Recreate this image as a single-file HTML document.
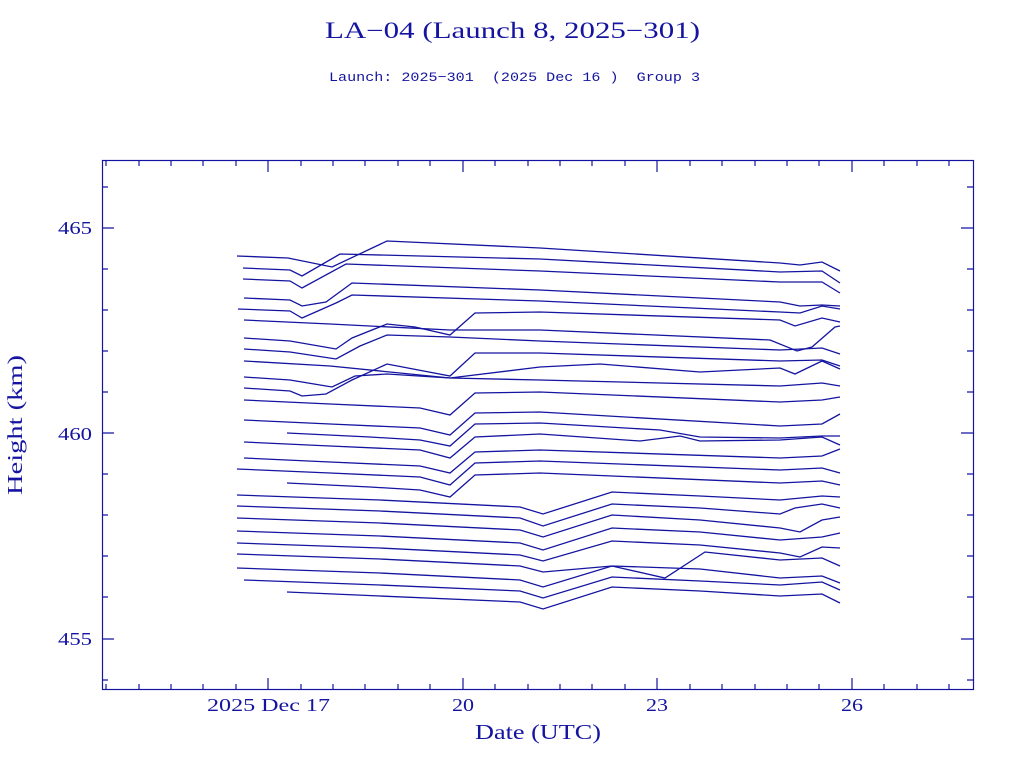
<!DOCTYPE html>
<html><head><meta charset="utf-8"><style>
body{margin:0;background:#fff;}
svg{display:block}
text{fill:#1414a0}
</style></head><body>
<svg width="1024" height="768" xmlns="http://www.w3.org/2000/svg">
<rect width="1024" height="768" fill="#fff"/>
<text x="325" y="38" font-family="Liberation Serif, serif" font-size="23" textLength="375" lengthAdjust="spacingAndGlyphs">LA−04 (Launch 8, 2025−301)</text>
<text x="329" y="81" font-family="Liberation Mono, monospace" font-size="13" textLength="371" lengthAdjust="spacingAndGlyphs" xml:space="preserve">Launch: 2025−301  (2025 Dec 16 )  Group 3</text>
<g stroke="#1414a0" stroke-width="1.2" fill="none">
<rect x="102.5" y="160.5" width="871" height="529"/>
<path d="M102 228h12M102 433h12M102 639h12M973 228h-12M973 433h-12M973 639h-12
M102 187h6M102 269h6M102 310h6M102 351h6M102 392h6M102 474h6M102 515h6M102 556h6M102 597h6M102 680h6
M973 187h-6M973 269h-6M973 310h-6M973 351h-6M973 392h-6M973 474h-6M973 515h-6M973 556h-6M973 597h-6M973 680h-6
M268 690v-12M463 690v-12M657 690v-12M852 690v-12M268 160v12M463 160v12M657 160v12M852 160v12
M106 690v-6M139 690v-6M171 690v-6M203 690v-6M236 690v-6M301 690v-6M333 690v-6M365 690v-6M398 690v-6M430 690v-6M495 690v-6M528 690v-6M560 690v-6M592 690v-6M625 690v-6M690 690v-6M722 690v-6M755 690v-6M787 690v-6M819 690v-6M884 690v-6M917 690v-6M949 690v-6
M106 160v6M139 160v6M171 160v6M203 160v6M236 160v6M301 160v6M333 160v6M365 160v6M398 160v6M430 160v6M495 160v6M528 160v6M560 160v6M592 160v6M625 160v6M690 160v6M722 160v6M755 160v6M787 160v6M819 160v6M884 160v6M917 160v6M949 160v6"/>
</g>
<g font-family="Liberation Serif, serif" font-size="18">
<text x="58" y="234" textLength="34" lengthAdjust="spacingAndGlyphs">465</text>
<text x="58" y="440" textLength="34" lengthAdjust="spacingAndGlyphs">460</text>
<text x="58" y="645" textLength="34" lengthAdjust="spacingAndGlyphs">455</text>
<text x="207" y="711" textLength="123" lengthAdjust="spacingAndGlyphs">2025 Dec 17</text>
<text x="452" y="711" textLength="22" lengthAdjust="spacingAndGlyphs">20</text>
<text x="646" y="711" textLength="22" lengthAdjust="spacingAndGlyphs">23</text>
<text x="841" y="711" textLength="22" lengthAdjust="spacingAndGlyphs">26</text>
</g>
<text x="475" y="739" font-family="Liberation Serif, serif" font-size="21" textLength="126" lengthAdjust="spacingAndGlyphs">Date (UTC)</text>
<text transform="translate(22,495) rotate(-90)" font-family="Liberation Serif, serif" font-size="21" textLength="140" lengthAdjust="spacingAndGlyphs">Height (km)</text>
<g stroke="#1414a0" stroke-width="1.3" fill="none">
<polyline points="237,256 288,258 332,267 387,241 540,248 780,263 800,265 822,262 840,271"/>
<polyline points="243,268 290,270 302,276 340,254 540,259 780,272 822,271 840,283"/>
<polyline points="243,279 290,281 302,288 346,264 540,271 780,282 822,282 840,293"/>
<polyline points="244,298 290,300 302,306 326,302 352,283 540,290 780,302 800,306 822,305 840,306"/>
<polyline points="238,309 290,311 302,318 336,303 352,295 540,301 780,312 800,313 822,306 840,309"/>
<polyline points="244,338 290,341 336,349 352,338 387,324 415,327 450,335 475,313 540,312 780,320 795,326 822,318 840,322"/>
<polyline points="244,320 330,324 450,330 540,330 770,340 797,351 812,347 835,327 840,326"/>
<polyline points="244,349 290,352 336,359 360,346 387,335 450,337 540,341 780,350 822,348 840,354"/>
<polyline points="244,388 290,391 302,396 326,394 352,380 387,364 450,376 475,353 540,353 780,361 822,360 840,366"/>
<polyline points="244,361 330,366 450,378 540,367 600,364 700,372 780,368 795,374 822,361 840,369"/>
<polyline points="244,377 290,380 332,387 355,376 387,374 450,378 540,380 780,386 822,383 840,386"/>
<polyline points="244,400 330,404 420,408 450,415 475,393 540,392 780,402 822,400 840,397"/>
<polyline points="244,420 330,424 420,428 450,435 475,413 540,412 780,426 822,424 840,414"/>
<polyline points="287,433 370,437 420,440 450,446 475,424 540,423 660,430 700,437 780,438 822,436 840,436"/>
<polyline points="244,442 330,446 420,450 450,458 475,437 540,434 640,441 680,436 700,441 780,440 822,437 840,445"/>
<polyline points="244,458 330,462 420,466 450,473 475,452 540,450 780,458 822,456 840,449"/>
<polyline points="237,469 330,473 420,477 450,485 475,463 540,461 780,470 822,468 840,473"/>
<polyline points="287,483 370,487 420,490 450,497 475,475 540,473 780,483 822,481 840,485"/>
<polyline points="237,495 380,500 520,507 543,514 612,492 700,496 780,500 822,496 840,497"/>
<polyline points="237,506 380,511 520,518 543,526 612,504 700,508 780,514 795,508 822,504 840,508"/>
<polyline points="237,518 380,523 520,530 543,537 612,515 700,520 780,528 800,532 822,520 840,517"/>
<polyline points="237,531 380,536 520,543 543,550 612,528 700,532 780,540 822,537 840,533"/>
<polyline points="237,543 380,548 520,555 543,561 612,541 700,545 780,553 800,557 822,547 840,548"/>
<polyline points="237,554 380,559 520,566 543,572 612,566 665,578 705,552 780,560 822,558 840,566"/>
<polyline points="237,568 380,573 520,580 543,587 612,566 700,569 780,578 822,576 840,583"/>
<polyline points="244,580 380,585 520,591 543,598 612,577 700,581 780,585 822,582 840,590"/>
<polyline points="287,592 380,596 520,602 543,609 612,587 700,591 780,596 822,594 840,603"/>
</g>
</svg>
</body></html>
